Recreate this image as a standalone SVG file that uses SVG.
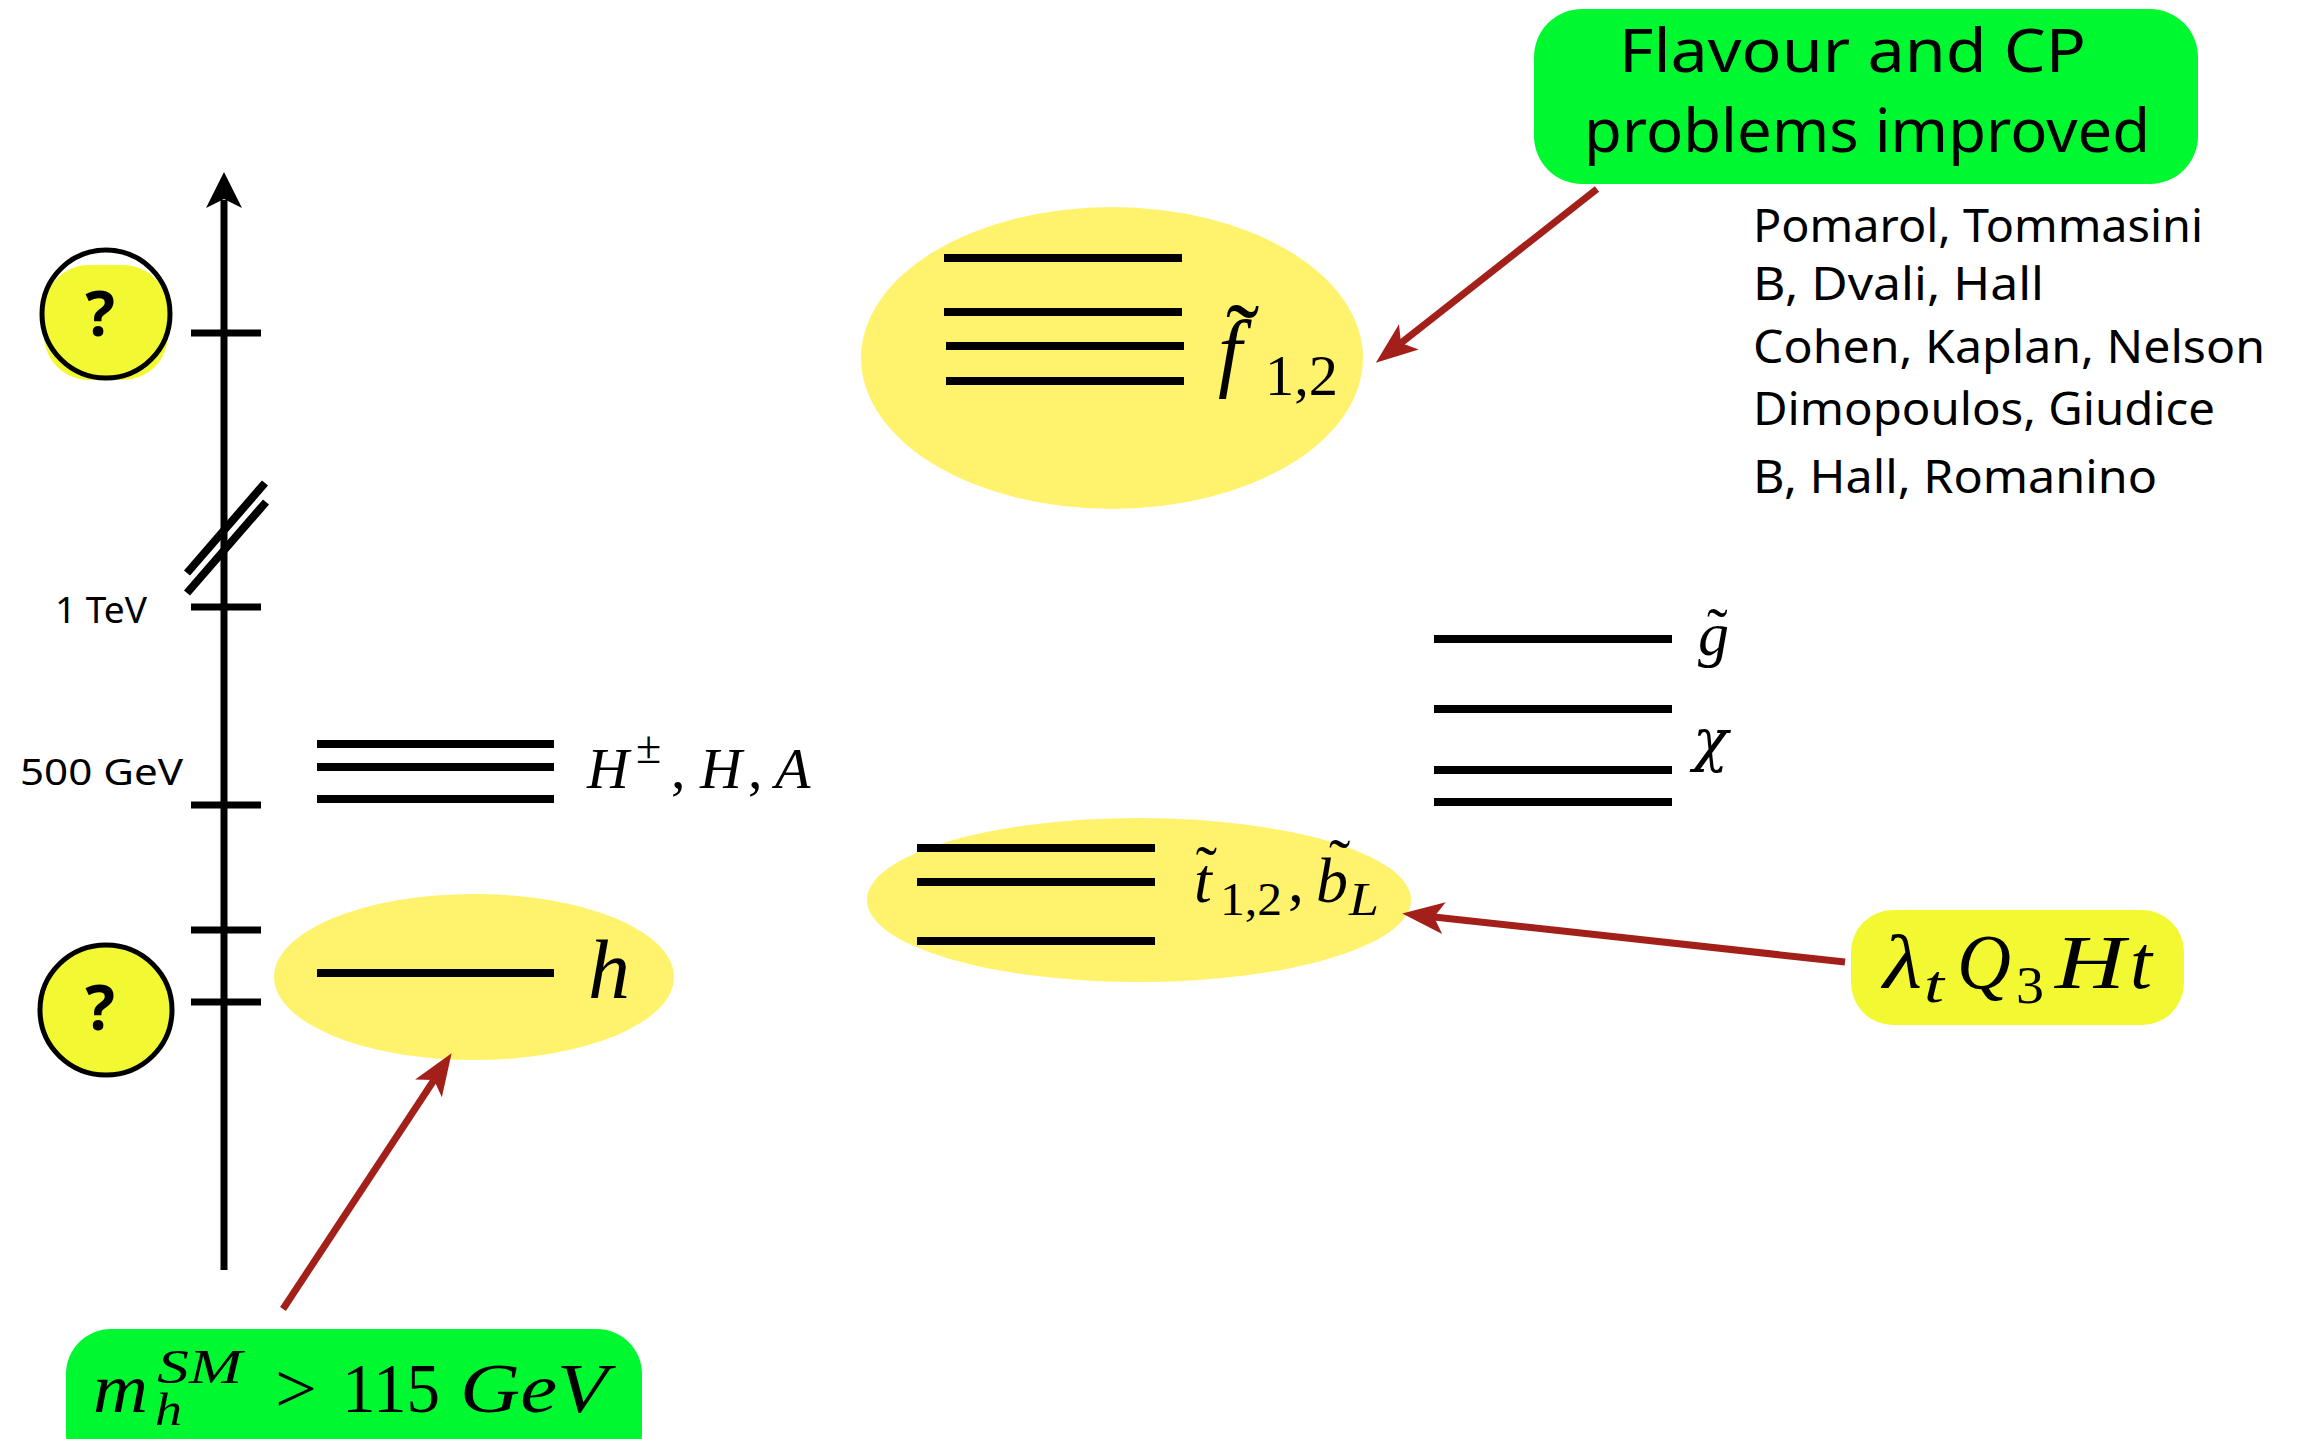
<svg xmlns="http://www.w3.org/2000/svg" width="2299" height="1439" viewBox="0 0 2299 1439">
<defs>
<style>
.lvl{stroke:#000;stroke-width:8;fill:none}
.tick{stroke:#000;stroke-width:7}
.ax{stroke:#000;stroke-width:7;fill:none}
.blob{fill:#fff36e}
.qfill{fill:#f2f932}
.math{font-family:"Liberation Serif","DejaVu Serif",serif;font-style:italic;fill:#000}
.rm{font-style:normal}
.hand{font-family:"Noto Sans","Liberation Sans",sans-serif;fill:#000}
.conn{stroke:#a3201a;stroke-width:7;fill:none;marker-end:url(#ah)}
.green{fill:#00f830}
</style>
<marker id="ah" markerUnits="userSpaceOnUse" markerWidth="50" markerHeight="40" viewBox="-5 -20 50 40" refX="10" refY="0" orient="auto">
<path d="M0,-16 L42,0 L0,16 L10,0 Z" fill="#a3201a"/>
</marker>
</defs>
<rect x="0" y="0" width="2299" height="1439" fill="#fff"/>

<g id="axis">
<line class="ax" x1="224" y1="1270" x2="224" y2="200"/>
<polygon points="224,172 206,208 224,199 242,208" fill="#000"/>
<line class="tick" x1="191" y1="333" x2="261" y2="333"/>
<line class="tick" x1="191" y1="607" x2="261" y2="607"/>
<line class="tick" x1="191" y1="805" x2="261" y2="805"/>
<line class="tick" x1="191" y1="930" x2="261" y2="930"/>
<line class="tick" x1="191" y1="1002" x2="261" y2="1002"/>
<line stroke="#000" stroke-width="8" x1="187" y1="573" x2="265" y2="483"/>
<line stroke="#000" stroke-width="8" x1="187" y1="593" x2="266" y2="502"/>
<text class="hand" x="55" y="623" font-size="37" textLength="92" lengthAdjust="spacingAndGlyphs">1 TeV</text>
<text class="hand" x="20" y="785" font-size="37" textLength="163" lengthAdjust="spacingAndGlyphs">500 GeV</text>
</g>

<g id="q-top">
<rect class="qfill" x="44" y="265" width="124" height="115" rx="45"/>
<circle cx="106" cy="314" r="64" fill="none" stroke="#000" stroke-width="5"/>
<text class="hand" x="100" y="336" font-size="62" font-weight="bold" text-anchor="middle">?</text>
</g>

<g id="q-bottom">
<ellipse class="qfill" cx="106" cy="1010" rx="66" ry="65" stroke="#000" stroke-width="5"/>
<text class="hand" x="100" y="1030" font-size="62" font-weight="bold" text-anchor="middle">?</text>
</g>

<g id="heavy-higgs">
<line class="lvl" x1="317" y1="744" x2="554" y2="744"/>
<line class="lvl" x1="317" y1="767" x2="554" y2="767"/>
<line class="lvl" x1="317" y1="799" x2="554" y2="799"/>
<text class="math" y="788" font-size="58"><tspan x="587">H</tspan><tspan class="rm" x="636" y="763" font-size="46">±</tspan><tspan class="rm" x="671" y="788">,</tspan><tspan x="700">H</tspan><tspan class="rm" x="748">,</tspan><tspan x="775">A</tspan></text>
</g>

<g id="light-higgs">
<ellipse class="blob" cx="474" cy="977" rx="200" ry="83"/>
<line class="lvl" x1="317" y1="973" x2="554" y2="973"/>
<text class="math" x="588" y="998" font-size="84">h</text>
</g>

<g id="sfermions-12">
<ellipse class="blob" cx="1112" cy="358" rx="251" ry="151"/>
<line class="lvl" x1="944" y1="258" x2="1182" y2="258"/>
<line class="lvl" x1="944" y1="312" x2="1182" y2="312"/>
<line class="lvl" x1="946" y1="346" x2="1184" y2="346"/>
<line class="lvl" x1="946" y1="381" x2="1184" y2="381"/>
<text class="math" x="1218" y="380" font-size="86">f<tspan class="rm" dx="-16" dy="-8" font-size="100">˜</tspan></text>
<text class="math rm" x="1265" y="395" font-size="56" textLength="73" lengthAdjust="spacingAndGlyphs">1,2</text>
</g>

<g id="gaugino">
<line class="lvl" x1="1434" y1="639" x2="1672" y2="639"/>
<line class="lvl" x1="1434" y1="709" x2="1672" y2="709"/>
<line class="lvl" x1="1434" y1="770" x2="1672" y2="770"/>
<line class="lvl" x1="1434" y1="802" x2="1672" y2="802"/>
<text class="math" x="1698" y="655" font-size="62">g<tspan class="rm" dx="-22" dy="-4">˜</tspan></text>
<text x="1693" y="760" font-family="DejaVu Serif, serif" font-style="italic" font-size="58" fill="#000">χ</text>
</g>

<g id="stops">
<ellipse class="blob" cx="1139" cy="900" rx="272" ry="82"/>
<line class="lvl" x1="917" y1="848" x2="1155" y2="848"/>
<line class="lvl" x1="917" y1="882" x2="1155" y2="882"/>
<line class="lvl" x1="917" y1="941" x2="1155" y2="941"/>
<text class="math" x="1194" y="902" font-size="64">t<tspan class="rm" dx="-16" dy="-12">˜</tspan></text>
<text class="math rm" x="1220" y="915" font-size="46" textLength="62" lengthAdjust="spacingAndGlyphs">1,2</text>
<text class="math rm" x="1288" y="902" font-size="64">,</text>
<text class="math" x="1316" y="902" font-size="64">b<tspan class="rm" dx="-19" dy="-19">˜</tspan></text>
<text class="math" x="1349" y="915" font-size="46" textLength="30" lengthAdjust="spacingAndGlyphs">L</text>
</g>

<g id="yukawa">
<rect class="qfill" x="1851" y="910" width="333" height="115" rx="42"/>
<text class="math" x="1883" y="988" font-size="76" textLength="39" lengthAdjust="spacingAndGlyphs">λ</text>
<text class="math" x="1924" y="1002" font-size="52" textLength="20" lengthAdjust="spacingAndGlyphs">t</text>
<text class="math" x="1957" y="988" font-size="78" textLength="54" lengthAdjust="spacingAndGlyphs">Q</text>
<text class="math rm" x="2016" y="1003" font-size="52" textLength="28" lengthAdjust="spacingAndGlyphs">3</text>
<text class="math" x="2055" y="988" font-size="76" textLength="70" lengthAdjust="spacingAndGlyphs">H</text>
<text class="math" x="2130" y="988" font-size="76" textLength="22" lengthAdjust="spacingAndGlyphs">t</text>
</g>

<g id="flavour-box">
<rect class="green" x="1534" y="9" width="664" height="175" rx="48"/>
<text class="hand" x="1619" y="72" font-size="60" textLength="467" lengthAdjust="spacingAndGlyphs">Flavour and CP</text>
<text class="hand" x="1584" y="152" font-size="60" textLength="566" lengthAdjust="spacingAndGlyphs">problems improved</text>
</g>

<g id="references">
<text class="hand" x="1753" y="242" font-size="46" textLength="450" lengthAdjust="spacingAndGlyphs">Pomarol, Tommasini</text>
<text class="hand" x="1753" y="300" font-size="46" textLength="291" lengthAdjust="spacingAndGlyphs">B, Dvali, Hall</text>
<text class="hand" x="1753" y="363" font-size="46" textLength="512" lengthAdjust="spacingAndGlyphs">Cohen, Kaplan, Nelson</text>
<text class="hand" x="1753" y="425" font-size="46" textLength="462" lengthAdjust="spacingAndGlyphs">Dimopoulos, Giudice</text>
<text class="hand" x="1753" y="493" font-size="46" textLength="404" lengthAdjust="spacingAndGlyphs">B, Hall, Romanino</text>
</g>

<g id="higgs-bound">
<rect class="green" x="66" y="1329" width="576" height="150" rx="45"/>
<text class="math" x="93" y="1412" font-size="70" textLength="55" lengthAdjust="spacingAndGlyphs">m</text>
<text class="math" x="157" y="1383" font-size="48" textLength="85" lengthAdjust="spacingAndGlyphs">SM</text>
<text class="math" x="155" y="1425" font-size="46" textLength="27" lengthAdjust="spacingAndGlyphs">h</text>
<text class="math rm" x="275" y="1412" font-size="70" textLength="42" lengthAdjust="spacingAndGlyphs">&gt;</text>
<text class="math rm" x="342" y="1412" font-size="70" textLength="98" lengthAdjust="spacingAndGlyphs">115</text>
<text class="math" x="460" y="1412" font-size="70" textLength="148" lengthAdjust="spacingAndGlyphs">GeV</text>
</g>

<g id="connectors">
<line class="conn" x1="283" y1="1309" x2="434" y2="1080"/>
<line class="conn" x1="1597" y1="189" x2="1401" y2="343"/>
<line class="conn" x1="1845" y1="962" x2="1434" y2="917"/>
</g>
</svg>
